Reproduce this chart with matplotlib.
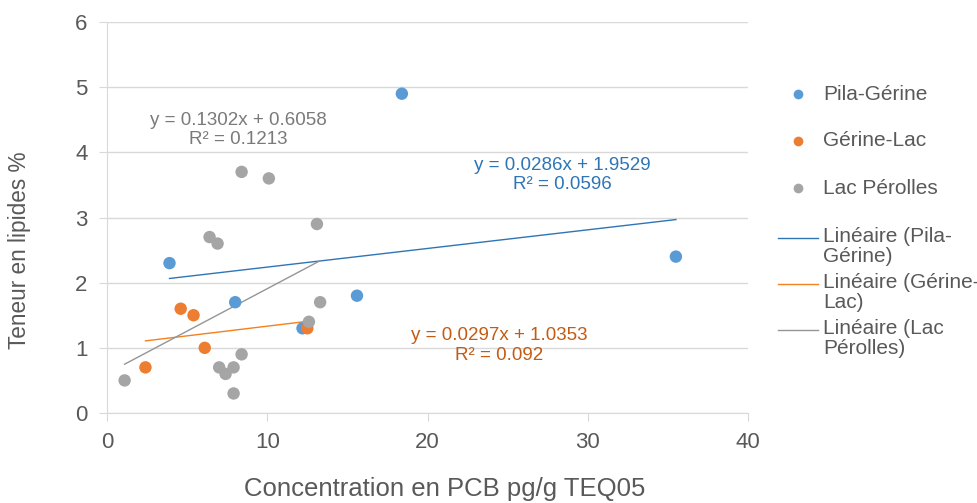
import matplotlib.pyplot as plt
from matplotlib.lines import Line2D
import numpy as np

plt.rcParams['font.family'] = ['Liberation Sans', 'DejaVu Sans']

# Data
series = ["Pila-Gérine", "Gérine-Lac", "Lac Pérolles"]
pila_x = [3.9, 8.0, 18.4, 15.6, 35.5, 12.2]
pila_y = [2.3, 1.7, 4.9, 1.8, 2.4, 1.3]
gerine_x = [2.4, 4.6, 5.4, 6.1, 12.5]
gerine_y = [0.7, 1.6, 1.5, 1.0, 1.3]
lac_x = [1.1, 6.4, 6.9, 8.4, 10.1, 13.1, 13.3, 12.6, 8.4, 7.0, 7.9, 7.4, 7.9]
lac_y = [0.5, 2.7, 2.6, 3.7, 3.6, 2.9, 1.7, 1.4, 0.9, 0.7, 0.7, 0.6, 0.3]
slopes = [0.0286, 0.0297, 0.1302]
intercepts = [1.9529, 1.0353, 0.6058]
r2 = ["0.0596", "0.092", "0.1213"]
trend_labels = ["Linéaire (Pila-\nGérine)", "Linéaire (Gérine-\nLac)", "Linéaire (Lac\nPérolles)"]

marker_colors = ["#5B9BD5", "#ED7D31", "#A5A5A5"]
line_colors = ["#2E75B6", "#F4801F", "#959595"]
text_colors = ["#2E75B6", "#C55A11", "#7A7A7A"]
grey = "#595959"

W, H = 978, 503


def fx(px):
    return px / W


def fy(py):
    return 1 - py / H


def main():
    fig = plt.figure(figsize=(W / 100, H / 100), dpi=100)
    ax = fig.add_axes([fx(107), fy(413), (748 - 107) / W, (413 - 22) / H])

    xs = [pila_x, gerine_x, lac_x]
    ys = [pila_y, gerine_y, lac_y]

    # trendlines first so the points sit on top
    for i in range(3):
        xx = np.array([min(xs[i]), max(xs[i])])
        ax.plot(xx, slopes[i] * xx + intercepts[i], color=line_colors[i], lw=1.0, zorder=2)

    for i in range(3):
        ax.scatter(xs[i], ys[i], s=80, color=marker_colors[i], edgecolors="none", zorder=3)

    # equations of the trendlines
    eq_pos = [(28.4, 3.65), (24.5, 1.035), (8.2, 4.34)]
    for i in range(3):
        ax.text(eq_pos[i][0], eq_pos[i][1],
                "y = %sx + %s\nR² = %s" % (slopes[i], intercepts[i], r2[i]),
                color=text_colors[i], fontsize=13.5, ha="center", va="center", linespacing=1.2)

    ax.set_xlim(0, 40)
    ax.set_ylim(0, 6)
    ax.set_xticks([0, 10, 20, 30, 40])
    ax.set_yticks(range(7))
    ax.yaxis.grid(True, color="#D9D9D9", lw=1)
    ax.set_axisbelow(True)
    for side in ["top", "right"]:
        ax.spines[side].set_visible(False)
    for side in ["left", "bottom"]:
        ax.spines[side].set_color("#D9D9D9")
    ax.tick_params(axis="both", colors="#D9D9D9", labelcolor=grey, labelsize=16, length=5.5)
    ax.tick_params(axis="y", pad=8.5)
    ax.tick_params(axis="x", pad=8.5)

    ax.set_xlabel("Concentration en PCB pg/g TEQ05", fontsize=18.5, color=grey, va="top")
    ax.xaxis.set_label_coords((445 - 107) / 641, -(477 - 413) / 391)
    ax.set_ylabel("Teneur en lipides %", fontsize=16.3, color=grey, va="bottom")
    ax.yaxis.set_label_coords(-(107 - 31) / 641, (413 - 250) / 391)

    # legend drawn by hand to follow the Excel layout
    for i in range(3):
        y = fy(94 + 47 * i)
        fig.add_artist(Line2D([fx(798)], [y], marker="o", ms=7, color=marker_colors[i],
                              markeredgewidth=0, transform=fig.transFigure))
        fig.text(fx(823), y, series[i], fontsize=15, color=grey, va="center")
    for i in range(3):
        y = fy(238 + 46 * i)
        fig.add_artist(Line2D([fx(778), fx(818)], [y, y], lw=1.0, color=line_colors[i],
                              transform=fig.transFigure))
        fig.text(fx(823), fy(238 + 46 * i - 11), trend_labels[i], fontsize=15, color=grey,
                 va="top", linespacing=1.05)

    fig.savefig("out.png", dpi=100)


if __name__ == '__main__':
    main()
